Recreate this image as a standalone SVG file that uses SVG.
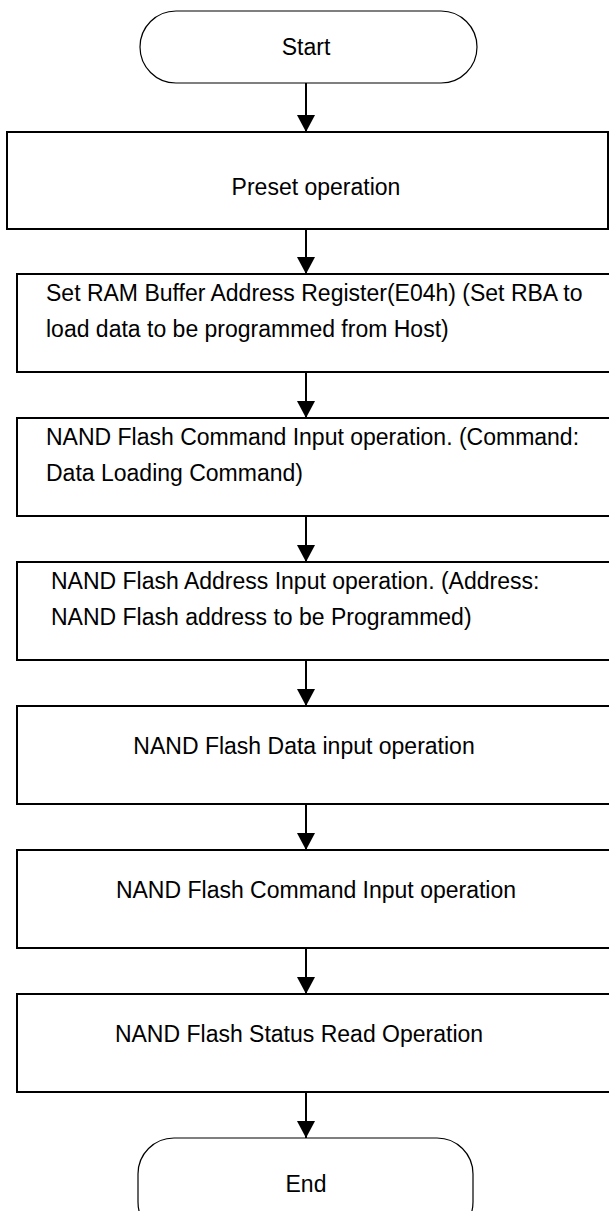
<svg xmlns="http://www.w3.org/2000/svg" width="609" height="1211" viewBox="0 0 609 1211">
<defs>
<style>
.box{fill:#fff;stroke:#000;stroke-width:2}
.term{fill:#fff;stroke:#000;stroke-width:1.2}
.t{font-family:"Liberation Sans",Arial,sans-serif;font-size:23px;fill:#000}
.c{text-anchor:middle}
.ln{stroke:#000;stroke-width:2;fill:none}
</style>
<marker id="ah" viewBox="0 0 17 18" refX="17" refY="9" markerWidth="17" markerHeight="18" markerUnits="userSpaceOnUse" orient="auto">
<path d="M0,0 L17,9 L0,18 Z" fill="#000"/>
</marker>
</defs>
<rect width="609" height="1211" fill="#fff"/>
<g id="connectors">
<line class="ln" x1="306" y1="83" x2="306" y2="132" marker-end="url(#ah)"/>
<line class="ln" x1="306" y1="229" x2="306" y2="274" marker-end="url(#ah)"/>
<line class="ln" x1="306" y1="372" x2="306" y2="418" marker-end="url(#ah)"/>
<line class="ln" x1="306" y1="516" x2="306" y2="562" marker-end="url(#ah)"/>
<line class="ln" x1="306" y1="660" x2="306" y2="706" marker-end="url(#ah)"/>
<line class="ln" x1="306" y1="804" x2="306" y2="850" marker-end="url(#ah)"/>
<line class="ln" x1="306" y1="948" x2="306" y2="994" marker-end="url(#ah)"/>
<line class="ln" x1="306" y1="1092" x2="306" y2="1138" marker-end="url(#ah)"/>
</g>
<g id="start">
<rect class="term" x="140" y="11" width="337" height="72" rx="36" ry="36"/>
<text class="t c" x="306" y="55">Start</text>
</g>
<g id="preset">
<rect class="box" x="7" y="132" width="601" height="97"/>
<text class="t c" x="316" y="195">Preset operation</text>
</g>
<g id="setRBA">
<rect class="box" x="17" y="274" width="600" height="98"/>
<text class="t" x="46" y="301">Set RAM Buffer Address Register(E04h) (Set RBA to</text>
<text class="t" x="46" y="337">load data to be programmed from Host)</text>
</g>
<g id="cmdInput1">
<rect class="box" x="17" y="418" width="600" height="98"/>
<text class="t" x="46" y="445">NAND Flash Command Input operation. (Command:</text>
<text class="t" x="46" y="481">Data Loading Command)</text>
</g>
<g id="addrInput">
<rect class="box" x="17" y="562" width="600" height="98"/>
<text class="t" x="51" y="589">NAND Flash Address Input operation. (Address:</text>
<text class="t" x="51" y="625">NAND Flash address to be Programmed)</text>
</g>
<g id="dataInput">
<rect class="box" x="17" y="706" width="600" height="98"/>
<text class="t c" x="304" y="754">NAND Flash Data input operation</text>
</g>
<g id="cmdInput2">
<rect class="box" x="17" y="850" width="600" height="98"/>
<text class="t c" x="316" y="898">NAND Flash Command Input operation</text>
</g>
<g id="statusRead">
<rect class="box" x="17" y="994" width="600" height="98"/>
<text class="t c" x="299" y="1042">NAND Flash Status Read Operation</text>
</g>
<g id="end">
<rect class="term" x="138" y="1138" width="335" height="100" rx="36" ry="36"/>
<text class="t c" x="306" y="1192">End</text>
</g>
</svg>
